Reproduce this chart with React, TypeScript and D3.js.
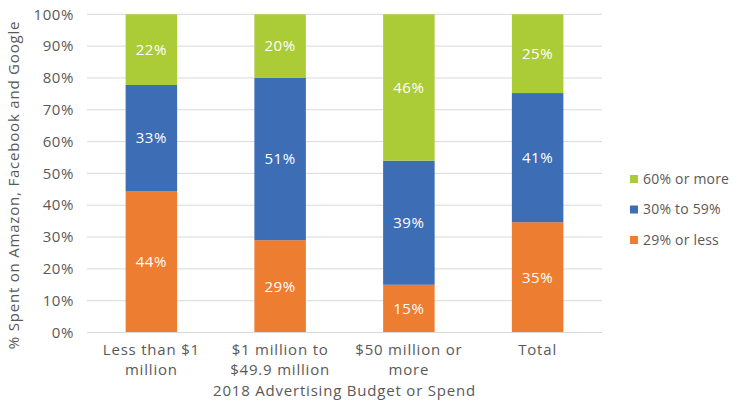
import React from "react";
import * as d3 from "d3";

const categories = [["Less than $1", "million"], ["$1 million to", "$49.9 million"], ["$50 million or", "more"], ["Total"]];
const seriesNames = ["29% or less", "30% to 59%", "60% or more"];
const low = [44, 29, 15, 35];
const mid = [33, 51, 39, 41];
const high = [22, 20, 46, 25];
const colors = ["#ED7D31", "#3C6DB5", "#ABCB37"];
const yTicks = [0, 0.1, 0.2, 0.3, 0.4, 0.5, 0.6, 0.7, 0.8, 0.9, 1];

const W = 732, H = 402;
const left = 87, right = 602, top = 14.3, bottom = 332.5;
const FONT = "'Open Sans', Lato, sans-serif";
const LS = 0.8;

export default function App() {
  const rows = categories.map((c, i) => ({ key: String(i), s0: low[i], s1: mid[i], s2: high[i] }));
  const keys = ["s0", "s1", "s2"];
  const stacked = d3.stack<any>().keys(keys).offset(d3.stackOffsetExpand)(rows);
  const raw = [low, mid, high];
  const x = d3.scaleBand().domain(rows.map(r => r.key)).range([left, right]).paddingInner(0.6).paddingOuter(0.3);
  const y = d3.scaleLinear().domain([0, 1]).range([bottom, top]);
  const fmt = d3.format(".0%");
  return (
    <svg width={W} height={H} style={{ position: "absolute", left: 0, top: 0, background: "#fff" }} fontFamily={FONT}>
      {yTicks.map(t => (
        <g key={t}>
          <line x1={left} x2={right} y1={y(t)} y2={y(t)} stroke="#D9D9D9" strokeWidth={1} />
          <text x={74} y={y(t)} dy="0.35em" textAnchor="end" fontSize={15} letterSpacing={0.6} fill="#595959">{fmt(t)}</text>
        </g>
      ))}
      {stacked.map((layer, si) => (
        <g key={si}>
          {layer.map((d, i) => {
            const bx = x(String(i))!;
            const y0 = y(d[0]), y1 = y(d[1]);
            return (
              <g key={i}>
                <rect x={bx} width={x.bandwidth()} y={y1} height={y0 - y1} fill={colors[si]} />
                <text x={bx + x.bandwidth() / 2} y={(y0 + y1) / 2} dy="0.35em" textAnchor="middle" fontSize={15} letterSpacing={0.6} fill="#fff">{raw[si][i] + "%"}</text>
              </g>
            );
          })}
        </g>
      ))}
      <line x1={left} x2={right} y1={bottom} y2={bottom} stroke="#D9D9D9" strokeWidth={1} />
      {categories.map((lines, i) => (
        <text key={i} x={x(String(i))! + x.bandwidth() / 2} textAnchor="middle" fontSize={15} letterSpacing={LS} fill="#595959">
          {lines.map((l, j) => <tspan key={j} x={x(String(i))! + x.bandwidth() / 2} y={354.5 + j * 20.5}>{l}</tspan>)}
        </text>
      ))}
      <text x={(left + right) / 2} y={396} textAnchor="middle" fontSize={15} letterSpacing={LS} fill="#595959">2018 Advertising Budget or Spend</text>
      <text transform={`translate(14,185) rotate(-90)`} textAnchor="middle" fontSize={15} letterSpacing={0.8} fill="#595959" dy="0.35em">% Spent on Amazon, Facebook and Google</text>
      {[2, 1, 0].map((si, k) => (
        <g key={si} transform={`translate(630,${179 + k * 30.5})`}>
          <rect x={0} y={-4} width={8} height={8} fill={colors[si]} />
          <text x={13} y={0} dy="0.35em" fontSize={14} letterSpacing={0.2} fill="#595959">{seriesNames[si]}</text>
        </g>
      ))}
    </svg>
  );
}
